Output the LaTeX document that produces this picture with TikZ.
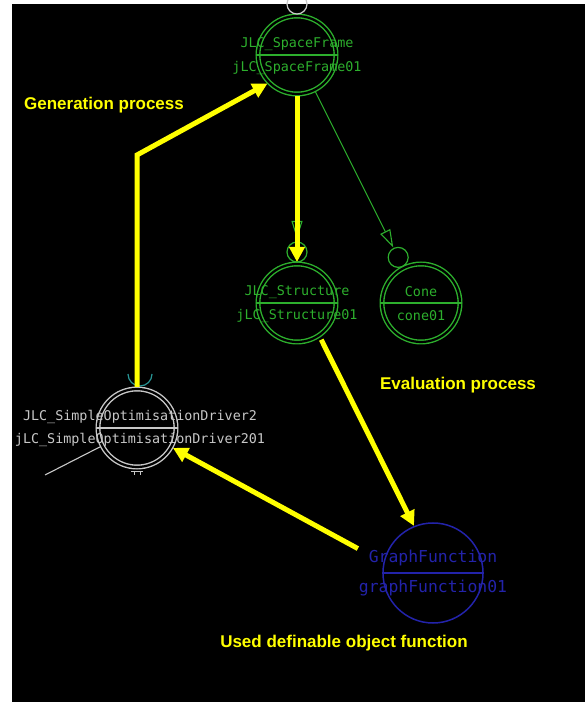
\documentclass[tikz,border=0pt]{standalone}
\usepackage{fontspec}
\setmainfont{Liberation Sans}
\setmonofont{DejaVu Sans Mono}
\usepackage{tikz}
\usetikzlibrary{positioning, calc, arrows.meta}

\definecolor{objgreen}{RGB}{45,175,45}
\definecolor{objgrey}{RGB}{200,200,200}
\definecolor{objblue}{RGB}{35,35,170}
\definecolor{flowyellow}{RGB}{255,255,0}
\definecolor{portteal}{RGB}{40,150,150}

\tikzset{
  obj/.style={circle, draw=#1, double=black, double distance=2.2pt, line width=1.4pt,
    minimum size=78pt, inner sep=0pt, outer sep=2pt},
  port/.style={circle, draw=#1, line width=1.2pt, minimum size=20pt, inner sep=0pt, outer sep=0pt},
  objtext/.style={text=#1, font=\ttfamily\fontsize{13.4}{14}\selectfont, inner sep=0pt},
  link/.style={draw=#1, line width=1.1pt},
  flow/.style={draw=flowyellow, line width=5pt, -{Triangle[length=15pt,width=15pt]}},
  proc/.style={text=flowyellow, font=\bfseries\fontsize{17}{20}\selectfont, inner sep=0pt},
}

\begin{document}
\begin{tikzpicture}[x=1pt, y=1pt, on grid]
  \path[use as bounding box, fill=white] (0,0) rectangle (585,702);
  \fill[black] (12,0) rectangle (585,698);

  \node[obj=objgreen] (frame) at (297,647) {};
  \node[obj=objgreen] (structure) [below=248pt of frame] {};
  \node[obj=objgreen] (cone) [right=124pt of structure] {};
  \node[obj=objgrey] (driver) [below left=125pt and 160pt of structure] {};
  \node[circle, draw=objblue, line width=1.5pt, minimum size=100pt, inner sep=0pt] (graphfn)
    [below right=270pt and 136pt of structure] {};

  % ports
  \node[port=objgrey] (frame-port) [above=51pt of frame] {};
  \node[port=objgreen] (structure-port) [above=51pt of structure] {};
  \node[port=objgreen] (cone-port) at ($(cone)!51pt!(frame)$) {};
  \coordinate (driver-port) at ($(driver.north)+(3,13)$);
  \draw[portteal, line width=1.2pt] ([xshift=-12pt]driver-port) arc[start angle=180, end angle=360, radius=12pt];
  \coordinate (driver-out) at (45,227);

  % dividers
  \foreach \n/\c in {frame/objgreen, structure/objgreen, cone/objgreen, driver/objgrey, graphfn/objblue}
    \draw[\c, line width=1.3pt] (\n.west) -- (\n.east);

  \node[objtext=objgreen] (frame-cls) at ([yshift=11pt]frame.center) {JLC\_SpaceFrame};
  \node[objtext=objgreen] (frame-inst) at ([yshift=-13pt]frame.center) {jLC\_SpaceFrame01};
  \node[objtext=objgreen] (structure-cls) at ([yshift=11pt]structure.center) {JLC\_Structure};
  \node[objtext=objgreen] (structure-inst) at ([yshift=-13pt]structure.center) {jLC\_Structure01};
  \node[objtext=objgreen] (cone-cls) at ([yshift=11pt]cone.center) {Cone};
  \node[objtext=objgreen] (cone-inst) at ([yshift=-13pt]cone.center) {cone01};
  \node[objtext=objgrey] (driver-cls) at ([xshift=3pt,yshift=11pt]driver.center) {JLC\_SimpleOptimisationDriver2};
  \node[objtext=objgrey] (driver-inst) at ([xshift=3pt,yshift=-12pt]driver.center) {jLC\_SimpleOptimisationDriver201};
  \node[objtext=objblue, font=\ttfamily\fontsize{16.4}{17}\selectfont] (graphfn-cls) at ([yshift=15pt]graphfn.center) {GraphFunction};
  \node[objtext=objblue, font=\ttfamily\fontsize{16.4}{17}\selectfont] (graphfn-inst) at ([yshift=-15pt]graphfn.center) {graphFunction01};

  \draw[link=objgreen, -{Triangle[open, length=18pt, width=11pt]}, shorten >=3pt] (frame) -- (structure-port);
  \draw[link=objgreen, -{Triangle[open, length=18pt, width=11pt]}, shorten >=1pt] (frame) -- (cone-port);
  \draw[link=objgrey] (driver) -- (driver-out);
  \draw[objgrey, line width=0.8pt] ([shift={(-6,-2)}]driver.south) -- ++(12,0)
    ([shift={(-3,-2)}]driver.south) -- ++(0,-4) ([shift={(3,-2)}]driver.south) -- ++(0,-4);

  \coordinate (gen-bend) at (139,547);
  \draw[flow] (driver.north) -- (driver.north |- gen-bend) -- (frame.224);
  \draw[flow] (frame.south) -- (structure.north);
  \draw[flow, shorten <=3pt] (structure.-56) -- (graphfn.112);
  \draw[flow, shorten <=29pt] (graphfn.168) -- (driver.-29);

  \node[proc] (gen-label) [below left=50pt and 193pt of frame] {Generation process};
  \node[proc] (eval-label) [below right=82pt and 37pt of cone] {Evaluation process};
  \node[proc] (used-label) [below left=70pt and 89pt of graphfn] {Used definable object function};
\end{tikzpicture}
\end{document}
